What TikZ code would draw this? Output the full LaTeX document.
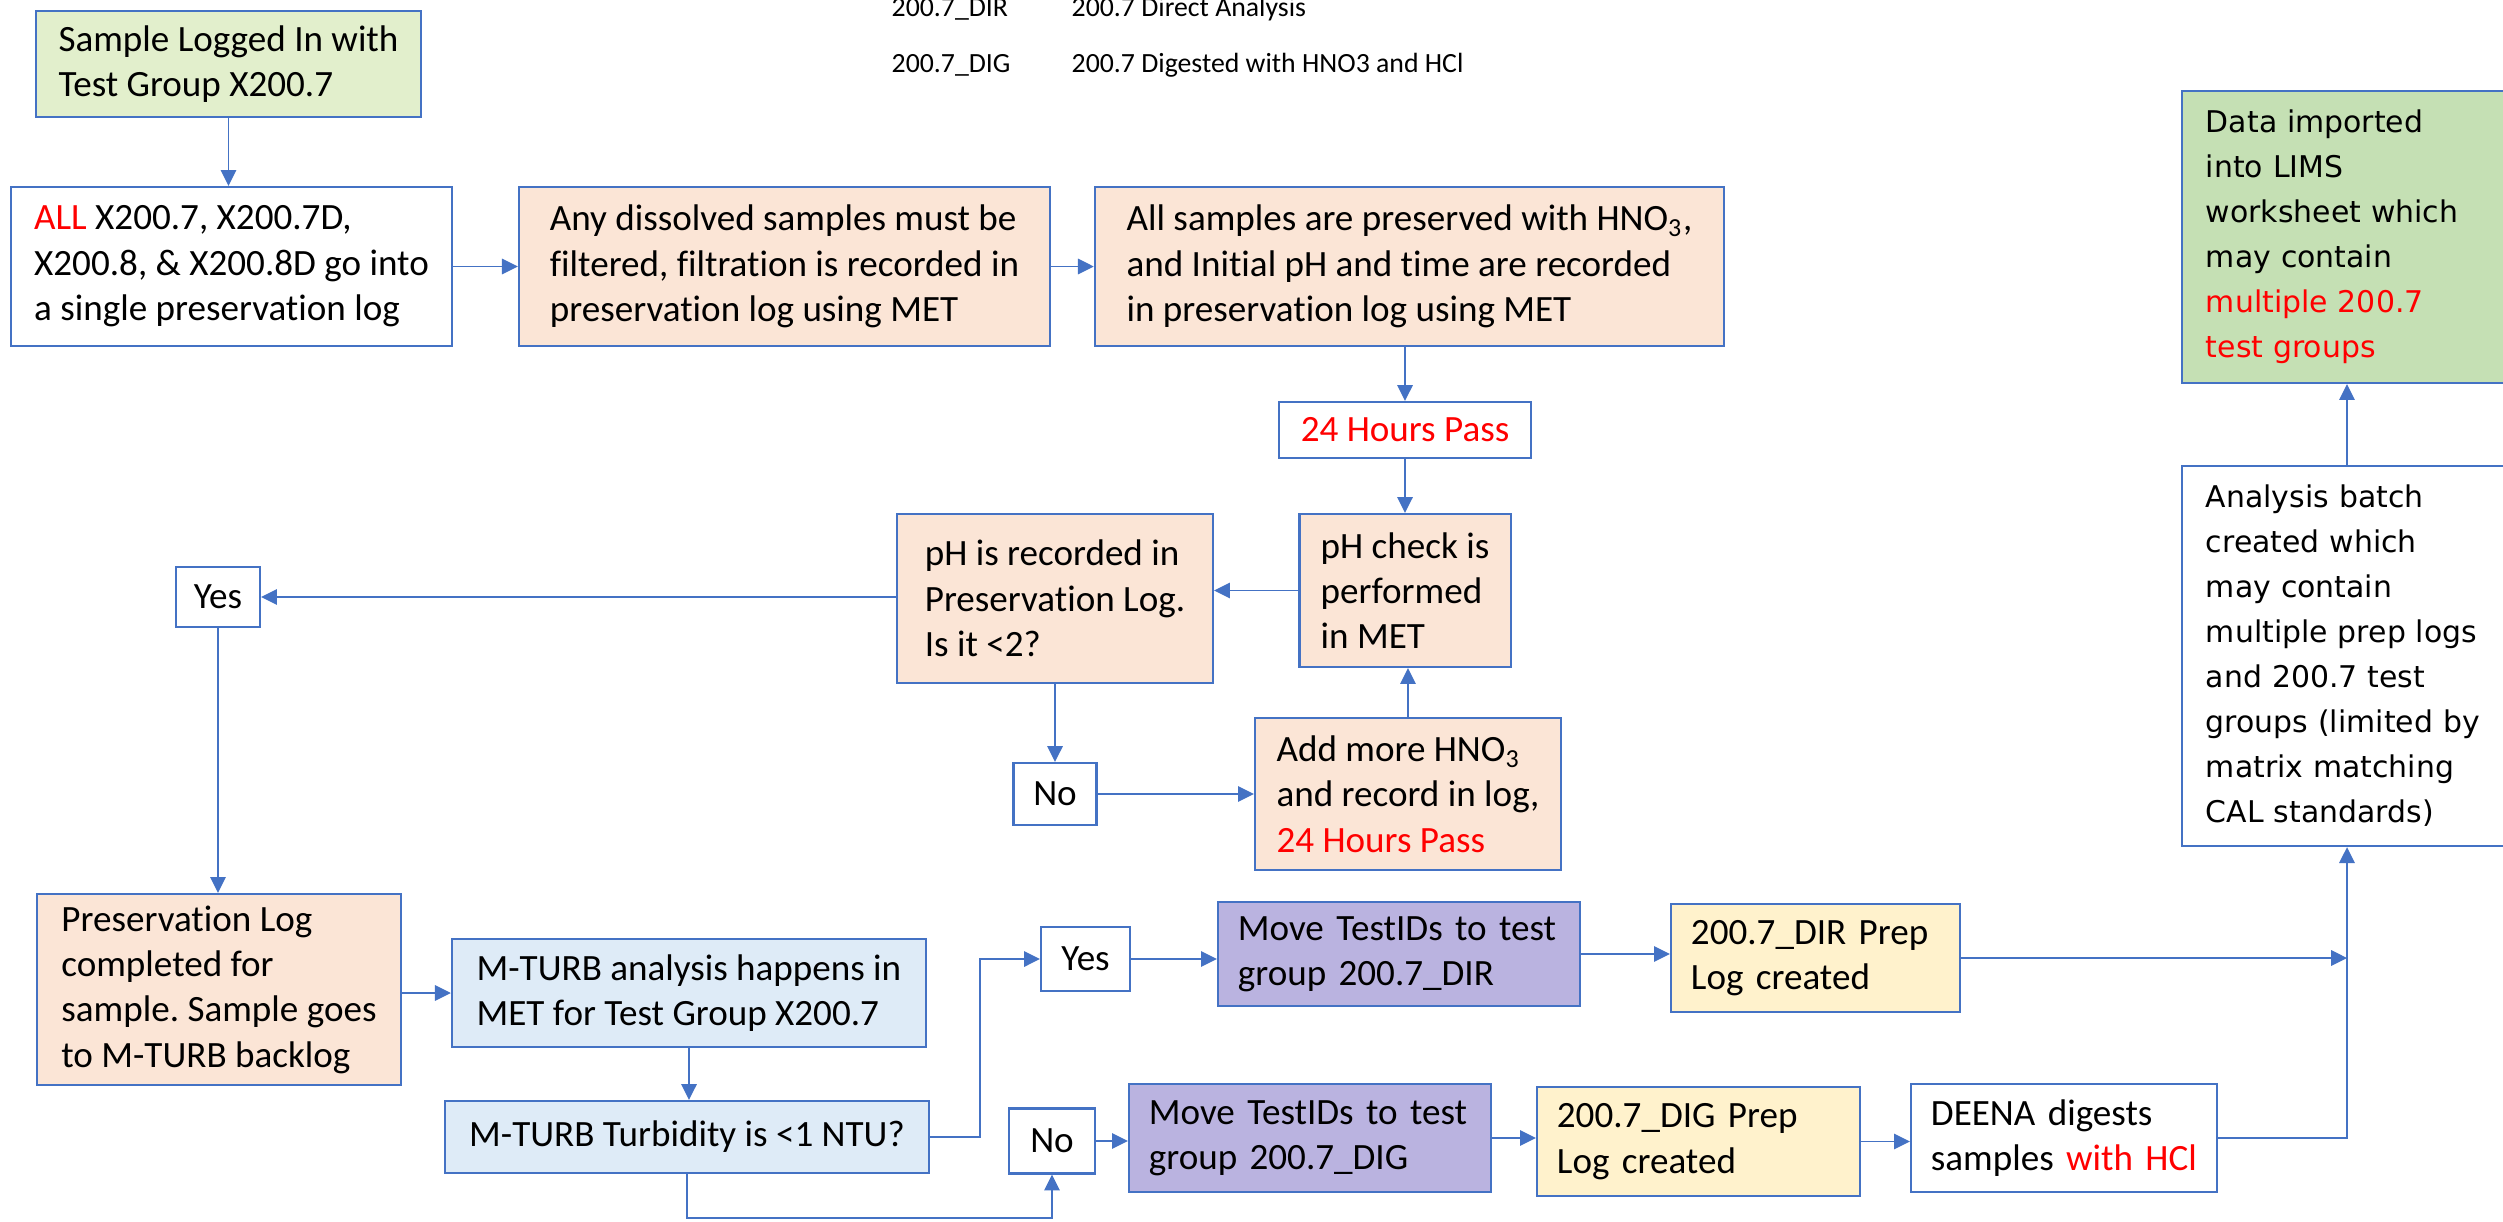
\documentclass[tikz,border=0pt]{standalone}
\usepackage{fontspec}
\setmainfont{Carlito}[Ligatures={NoCommon}]
\newfontfamily\widefont{DejaVu Sans}
\usetikzlibrary{arrows.meta}
\definecolor{edge}{RGB}{68,114,196}
\definecolor{lightgreen}{RGB}{226,239,204}
\definecolor{peach}{RGB}{251,229,214}
\definecolor{paleblue}{RGB}{222,235,247}
\definecolor{lavender}{RGB}{186,179,224}
\definecolor{cream}{RGB}{255,242,204}
\definecolor{sage}{RGB}{197,224,180}
\frenchspacing
\begin{document}
\begin{tikzpicture}[x=0.01cm,y=-0.01cm,
  box/.style={draw=edge, line width=0.6pt, inner sep=0pt,
    align=left, font=\fontsize{10.55}{12.9}\selectfont},
  padbox/.style={box, inner xsep=0.2cm},
  wbox/.style={box, inner xsep=0.24cm, text width=2.82cm,
    font=\widefont\fontsize{8.5}{12.8}\selectfont},
  hdr/.style={anchor=base west, inner sep=0pt, font=\fontsize{7.9}{9.6}\selectfont},
  link/.style={draw=edge, line width=0.45pt},
  arr/.style={link, -{Triangle[length=4.5pt,width=4.4pt]}}]
\useasboundingbox (0,0) rectangle (2503,1221);
\clip (0,0) rectangle (2503,1221);

% legend of test groups
\node[hdr] (h1) at (891,16) {200.7\_DIR};
\node[hdr] (h2) at (1071,16) {200.7 Direct Analysis};
\node[hdr] (h3) at (891,72) {200.7\_DIG};
\node[hdr] (h4) at (1071,72) {200.7 Digested with HNO3 and HCl};

% preservation stage
\node[box, fill=lightgreen, minimum width=3.84cm, minimum height=1.06cm] (a) at (228.5,64)
  {Sample Logged In with\\Test Group X200.7};
\node[box, fill=white, minimum width=4.41cm, minimum height=1.59cm] (b) at (231.5,266.5)
  {\textcolor{red}{ALL} X200.7, X200.7D,\\X200.8, \& X200.8D go into\\a single preservation log};
\node[box, fill=peach, minimum width=5.31cm, minimum height=1.59cm] (c) at (784.5,266.5)
  {Any dissolved samples must be\\filtered, filtration is recorded in\\preservation log using MET};
\node[box, fill=peach, minimum width=6.29cm, minimum height=1.59cm] (d) at (1409.5,266.5)
  {All samples are preserved with HNO\textsubscript{3},\\and Initial pH and time are recorded\\in preservation log using MET};
\node[box, align=center, fill=white, minimum width=2.52cm, minimum height=0.56cm] (e) at (1405,430)
  {\textcolor{red}{24 Hours Pass}};
\node[box, fill=peach, minimum width=2.11cm, minimum height=1.53cm] (f) at (1405,590.5)
  {pH check is\\performed\\in MET};
\node[box, fill=peach, minimum width=3.16cm, minimum height=1.69cm] (g) at (1055,598.5)
  {pH is recorded in\\Preservation Log.\\Is it <2?};
\node[box, align=center, fill=white, minimum width=0.84cm, minimum height=0.60cm] (h) at (218,597) {Yes};
\node[box, align=center, fill=white, minimum width=0.83cm, minimum height=0.62cm] (i) at (1055,794) {No};
\node[box, fill=peach, minimum width=3.06cm, minimum height=1.52cm] (j) at (1408,794)
  {Add more HNO\textsubscript{3}\\and record in log,\\\textcolor{red}{24 Hours Pass}};

% turbidity stage
\node[box, fill=peach, minimum width=3.64cm, minimum height=1.91cm] (k) at (219,989.5)
  {Preservation Log\\completed for\\sample. Sample goes\\to M-TURB backlog};
\node[box, fill=paleblue, minimum width=4.74cm, minimum height=1.08cm] (l) at (689,993)
  {M-TURB analysis happens in\\MET for Test Group X200.7};
\node[box, align=center, fill=paleblue, minimum width=4.84cm, minimum height=0.72cm] (m) at (687,1137)
  {M-TURB Turbidity is <1 NTU?};
\node[box, align=center, fill=white, minimum width=0.89cm, minimum height=0.64cm] (n) at (1085.5,959) {Yes};
\node[box, align=center, fill=white, minimum width=0.86cm, minimum height=0.65cm] (o) at (1052,1141) {No};

% direct and digested branches
\node[padbox, fill=lavender, text width=3.22cm, minimum height=1.04cm] (p) at (1399,954)
  {Move TestIDs to test\\group 200.7\_DIR};
\node[padbox, fill=cream, text width=2.49cm, minimum height=1.08cm] (q) at (1815.5,958)
  {200.7\_DIR Prep\\Log created};
\node[padbox, fill=lavender, text width=3.22cm, minimum height=1.08cm] (r) at (1310,1138)
  {Move TestIDs to test\\group 200.7\_DIG};
\node[padbox, fill=cream, text width=2.83cm, minimum height=1.09cm] (s) at (1698.5,1141.5)
  {200.7\_DIG Prep\\Log created};
\node[padbox, fill=white, text width=2.66cm, minimum height=1.08cm] (t) at (2064,1138)
  {DEENA digests\\samples \textcolor{red}{with HCl}};

% batch and import
\node[wbox, fill=white, minimum height=3.80cm] (u) at (2347,656)
  {Analysis batch\\created which\\may contain\\multiple prep logs\\and 200.7 test\\groups (limited by\\matrix matching\\CAL standards)};
\node[wbox, fill=sage, minimum height=2.92cm] (v) at (2347,237)
  {Data imported\\into LIMS\\worksheet which\\may contain\\\textcolor{red}{multiple 200.7}\\\textcolor{red}{test groups}};

% junction points
\coordinate (mn) at (980,1137);
\coordinate (mo) at (687,1218);
\coordinate (qj) at (2347,958);

% connectors
\draw[arr] (a.south) -- (a.south |- b.north);
\draw[arr] (b.east) -- (c.west);
\draw[arr] (c.east) -- (d.west);
\draw[arr] (e.north |- d.south) -- (e.north);
\draw[arr] (e.south) -- (f.north);
\draw[arr] (f.west) -- (f.west -| g.east);
\draw[arr] (h.east -| g.west) -- (h.east);
\draw[arr] (i.north |- g.south) -- (i.north);
\draw[arr] (i.east) -- (i.east -| j.west);
\draw[arr] (j.north) -- (j.north |- f.south);
\draw[arr] (h.south) -- (h.south |- k.north);
\draw[arr] (l.west -| k.east) -- (l.west);
\draw[arr] (l.south) -- (l.south |- m.north);
\draw[arr] (m.east) -- (mn) |- (n.west);
\draw[arr] (m.south) -- (mo) -| (o.south);
\draw[arr] (n.east) -- (n.east -| p.west);
\draw[arr] (p.east) -- (p.east -| q.west);
\draw[arr] (o.east) -- (o.east -| r.west);
\draw[arr] (r.east) -- (r.east -| s.west);
\draw[arr] (s.east) -- (s.east -| t.west);
\draw[arr] (q.east) -- (qj);
\draw[arr] (t.east) -| (u.south);
\draw[arr] (u.north) -- (v.south);
\end{tikzpicture}
\end{document}
